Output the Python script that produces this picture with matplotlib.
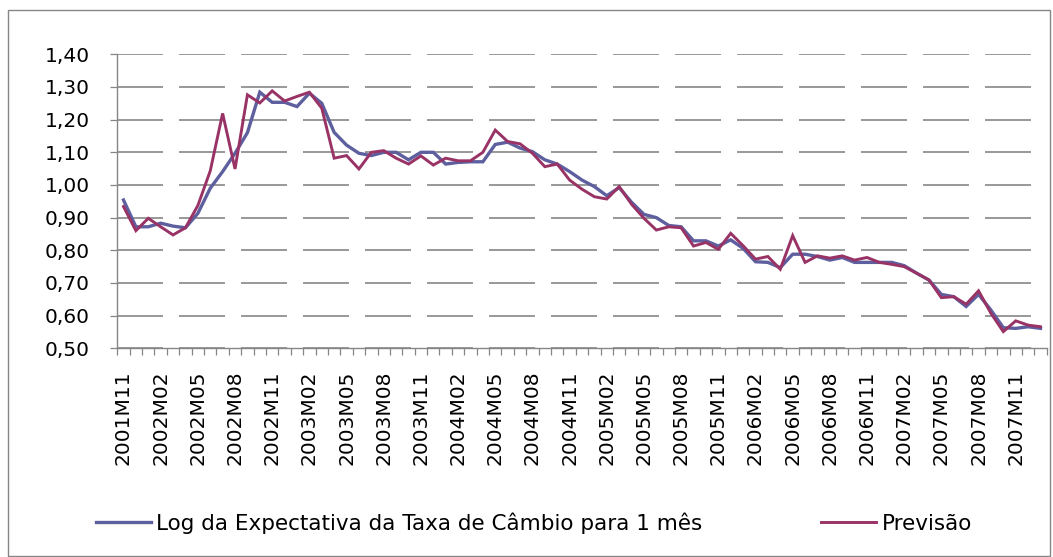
import matplotlib
matplotlib.use('Agg')
import matplotlib.pyplot as plt
from matplotlib.patches import Rectangle

# months 2001M11 .. 2008M01
months = []
year, month = 2001, 11
for _ in range(75):
    months.append(f"{year}M{month:02d}")
    month += 1
    if month > 12:
        month = 1
        year += 1

expectativa = [0.954, 0.872, 0.872, 0.883, 0.874, 0.869, 0.913, 0.990, 1.041, 1.097,
               1.160, 1.284, 1.253, 1.253, 1.240, 1.281, 1.250, 1.161, 1.122, 1.097,
               1.090, 1.100, 1.100, 1.077, 1.100, 1.100, 1.064, 1.069, 1.071, 1.071,
               1.124, 1.131, 1.113, 1.102, 1.077, 1.064, 1.041, 1.015, 0.995, 0.967,
               0.992, 0.947, 0.910, 0.900, 0.876, 0.872, 0.829, 0.829, 0.813, 0.832,
               0.806, 0.765, 0.763, 0.747, 0.788, 0.788, 0.781, 0.770, 0.778, 0.763,
               0.763, 0.763, 0.763, 0.753, 0.730, 0.709, 0.665, 0.658, 0.628, 0.665,
               0.617, 0.563, 0.561, 0.566, 0.561]

previsao = [0.934, 0.860, 0.898, 0.872, 0.847, 0.869, 0.937, 1.043, 1.219, 1.049,
            1.276, 1.251, 1.288, 1.257, 1.271, 1.284, 1.235, 1.082, 1.090, 1.049,
            1.100, 1.105, 1.082, 1.064, 1.089, 1.061, 1.082, 1.074, 1.074, 1.100,
            1.168, 1.133, 1.126, 1.097, 1.056, 1.064, 1.015, 0.987, 0.964, 0.957,
            0.995, 0.941, 0.898, 0.862, 0.872, 0.869, 0.813, 0.824, 0.803, 0.852,
            0.814, 0.773, 0.781, 0.742, 0.845, 0.763, 0.783, 0.776, 0.783, 0.770,
            0.778, 0.763, 0.757, 0.750, 0.730, 0.709, 0.655, 0.658, 0.635, 0.676,
            0.607, 0.551, 0.584, 0.571, 0.566]

y_ticks = [0.5, 0.6, 0.7, 0.8, 0.9, 1.0, 1.1, 1.2, 1.3, 1.4]

W, H = 1053, 557
grey = '#868686'
fs = 14.5
fs_leg = 15.5

fig = plt.figure(figsize=(W / 100, H / 100), dpi=100)
fig.patches.append(Rectangle((7.5 / W, 1 - 556 / H), (1050 - 7.5) / W, (556 - 10) / H,
                             transform=fig.transFigure, fill=False,
                             edgecolor=grey, linewidth=1.0))

ax = fig.add_axes([117.3 / W, 1 - 348.3 / H, (1046.7 - 117.3) / W, (348.3 - 54.3) / H])

x = list(range(len(months)))
ax.plot(x, expectativa, color='#5D5F9F', linewidth=2.4, solid_joinstyle='miter',
        label='Log da Expectativa da Taxa de Câmbio para 1 mês')
ax.plot(x, previsao, color='#993366', linewidth=2.1, solid_joinstyle='miter',
        label='Previsão')

ax.set_xlim(-0.5, len(months) - 0.5)
ax.set_ylim(0.5, 1.4)

ax.set_yticks(y_ticks)
ax.set_yticklabels([f"{v:.2f}".replace('.', ',') for v in y_ticks], fontsize=fs)
ax.yaxis.grid(True, color=grey, linewidth=1.2, linestyle=(0, (27.6, 9.6)))
ax.set_axisbelow(True)

label_pos = list(range(0, 73, 3))
ax.set_xticks(label_pos)
ax.set_xticklabels([months[i] for i in label_pos], rotation=90, fontsize=fs)
ax.set_xticks([i - 0.5 for i in range(len(months) + 1)], minor=True)
ax.tick_params(axis='x', which='major', length=0, pad=16)
ax.tick_params(axis='x', which='minor', length=5, width=0.9, color=grey, direction='out')
ax.tick_params(axis='y', length=5, width=0.9, color=grey, pad=15)

for side in ['top', 'right']:
    ax.spines[side].set_visible(False)
for side in ['left', 'bottom']:
    ax.spines[side].set_color(grey)
    ax.spines[side].set_linewidth(1.0)

fs_px = fs_leg * 100 / 72
fig.legend(loc='center', bbox_to_anchor=(534 / W, 1 - 523 / H), ncol=2, frameon=False,
           fontsize=fs_leg, handlelength=55 / fs_px, handletextpad=5 / fs_px,
           columnspacing=119 / fs_px)

fig.savefig('out.png', dpi=100)
